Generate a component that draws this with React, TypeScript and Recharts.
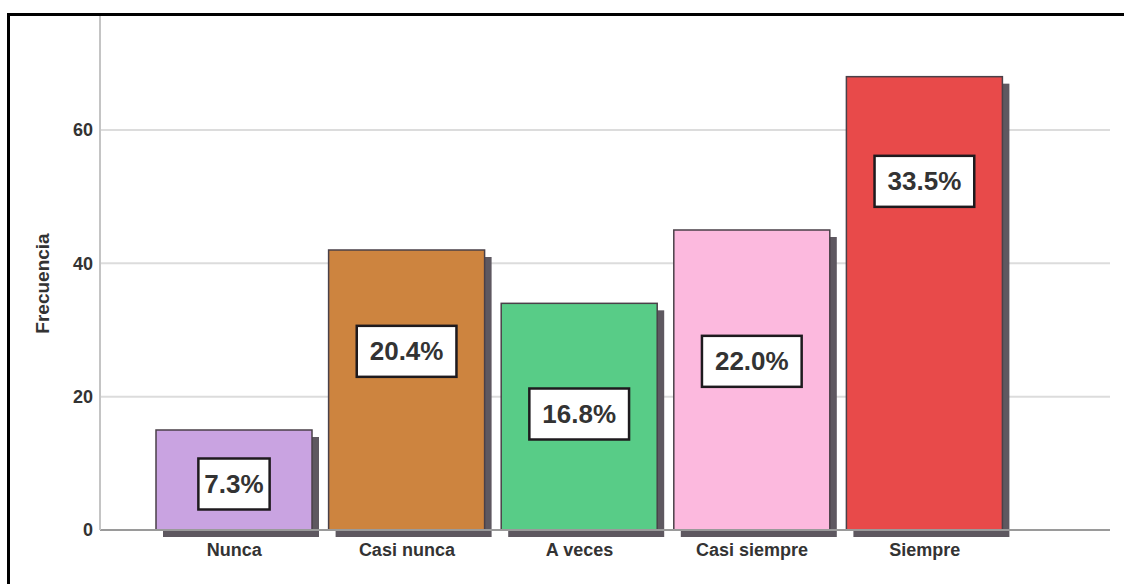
import { Bar, BarChart, CartesianGrid, Cell, LabelList, XAxis, YAxis } from "recharts";

const categories = ["Nunca", "Casi nunca", "A veces", "Casi siempre", "Siempre"];
const frequencies = [15, 42, 34, 45, 68];
const percentLabels = ["7.3%", "20.4%", "16.8%", "22.0%", "33.5%"];
// frequency level where SPSS placed each percentage box
const labelAnchors = [6.9, 26.8, 17.4, 25.3, 52.3];
const yTicks = [0, 20, 40, 60];

const barColors = ["#c9a3e1", "#cd843f", "#58cc87", "#fcb9de", "#e84a4a"];

const data = categories.map((name, i) => ({
  name,
  value: frequencies[i],
  pct: percentLabels[i],
}));

const FONT = "'Liberation Sans', Arial, sans-serif";

function ShadowBar(props: any) {
  const { x, y, width, height, fill } = props;
  if (!height || height <= 0) return null;
  return (
    <g>
      <rect x={x + 7} y={y + 7} width={width} height={height} fill="#5e5860" />
      <rect x={x} y={y} width={width} height={height} fill={fill} stroke="#4a4048" strokeWidth={1.5} />
    </g>
  );
}

function textWidth(s: string, size: number) {
  let w = 0;
  for (const ch of s) {
    if (ch === ".") w += 0.278;
    else if (ch === "%") w += 0.889;
    else w += 0.556;
  }
  return w * size;
}

function PctBox(props: any) {
  const { x, y, width, height, value } = props;
  const i = percentLabels.indexOf(value);
  if (i < 0) return null;
  const cy = y + height - (height * labelAnchors[i]) / frequencies[i];
  const cx = x + width / 2;
  const bw = textWidth(value, 26) + (value.length > 4 ? 26 : 12);
  const bh = 51;
  return (
    <g>
      <rect x={cx - bw / 2} y={cy - bh / 2} width={bw} height={bh} fill="#fff" stroke="#1e1a1e" strokeWidth={2.5} />
      <text
        x={cx}
        y={cy}
        textAnchor="middle"
        dominantBaseline="central"
        fontFamily={FONT}
        fontWeight="bold"
        fontSize={26}
        fill="#333"
      >
        {value}
      </text>
    </g>
  );
}

function YTitle(props: any) {
  const { viewBox } = props;
  const cy = viewBox.y + viewBox.height / 2 + 11;
  return (
    <text
      x={42}
      y={cy}
      transform={`rotate(-90, 42, ${cy})`}
      textAnchor="middle"
      dominantBaseline="central"
      fontFamily={FONT}
      fontWeight="bold"
      fontSize={19}
      fill="#333"
    >
      Frecuencia
    </text>
  );
}

export default function App() {
  return (
    <div style={{ position: "absolute", left: 0, top: 0, width: 1124, height: 584, background: "#fff", overflow: "hidden" }}>
      <div style={{ position: "absolute", left: 0, top: 0 }}>
        <BarChart width={1124} height={584} data={data} margin={{ top: 15, right: 14, bottom: 24, left: 40 }} barSize={156}>
          <CartesianGrid vertical={false} stroke="#dcdcdc" strokeWidth={2} />
          <XAxis
            dataKey="name"
            height={30}
            padding={{ left: 48, right: 99 }}
            tickLine={false}
            axisLine={{ stroke: "#9a9a9a", strokeWidth: 2 }}
            tickMargin={7}
            tick={{ fontFamily: FONT, fontWeight: "bold", fontSize: 18, fill: "#333" }}
            interval={0}
          />
          <YAxis
            width={60}
            domain={[0, 77.25]}
            ticks={yTicks}
            tickLine={false}
            axisLine={{ stroke: "#c4c4c4", strokeWidth: 2 }}
            tickMargin={1}
            tick={{ fontFamily: FONT, fontWeight: "bold", fontSize: 18, fill: "#333" }}
            label={<YTitle />}
          />
          <Bar dataKey="value" shape={<ShadowBar />} isAnimationActive={false}>
            {data.map((d, i) => (
              <Cell key={d.name} fill={barColors[i]} />
            ))}
            <LabelList dataKey="pct" content={<PctBox />} />
          </Bar>
        </BarChart>
      </div>
      <div
        style={{
          position: "absolute",
          left: 7,
          top: 13,
          width: 1117,
          height: 571,
          borderTop: "3px solid #000",
          borderLeft: "3px solid #000",
          boxSizing: "border-box",
          pointerEvents: "none",
        }}
      />
    </div>
  );
}
